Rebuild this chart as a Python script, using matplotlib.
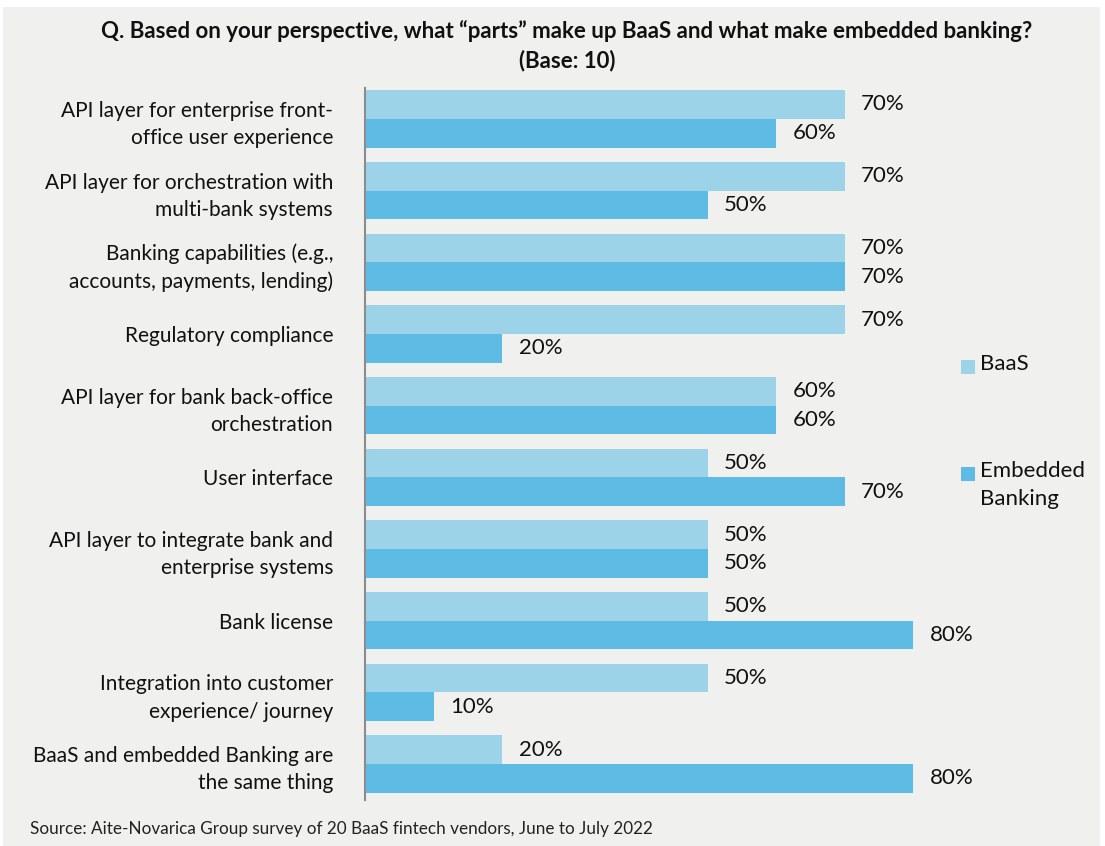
import matplotlib
matplotlib.use("Agg")
import matplotlib.pyplot as plt
from matplotlib.patches import Rectangle

categories = [
    "API layer for enterprise front-\noffice user experience",
    "API layer for orchestration with\nmulti-bank systems",
    "Banking capabilities (e.g.,\naccounts, payments, lending)",
    "Regulatory compliance",
    "API layer for bank back-office\norchestration",
    "User interface",
    "API layer to integrate bank and\nenterprise systems",
    "Bank license",
    "Integration into customer\nexperience/ journey",
    "BaaS and embedded Banking are\nthe same thing",
]
baas = [70, 70, 70, 70, 60, 50, 50, 50, 50, 20]
embedded = [60, 50, 70, 20, 60, 70, 50, 80, 10, 80]
series_names = ["BaaS", "Embedded\nBanking"]
title = "Q. Based on your perspective, what \u201cparts\u201d make up BaaS and what make embedded banking?\n(Base: 10)"
source = "Source: Aite-Novarica Group survey of 20 BaaS fintech vendors, June to July 2022"

C_BAAS = "#9DD3E8"
C_EMB = "#5EBCE4"
BG = "#F0F0EE"
FONT = "Lato"
INK = "#111111"

W, H = 1105, 846
fig = plt.figure(figsize=(W / 100, H / 100), dpi=100)
fig.patch.set_facecolor("white")
fig.add_artist(Rectangle((3 / W, 0), (W - 8) / W, (H - 7) / H,
                         transform=fig.transFigure, facecolor=BG,
                         edgecolor="none", zorder=-10))

ax_left, ax_right = 365 / W, 1050 / W
ax_top, ax_bot = 1 - 88 / H, 1 - 800 / H
ax = fig.add_axes([ax_left, ax_bot, ax_right - ax_left, ax_top - ax_bot])
ax.set_facecolor("none")

n = len(categories)
ys = list(range(n))
bh = 0.4
ax.barh([y - bh / 2 for y in ys], baas, height=bh, color=C_BAAS, label=series_names[0])
ax.barh([y + bh / 2 for y in ys], embedded, height=bh, color=C_EMB, label=series_names[1])

for y, b, e in zip(ys, baas, embedded):
    ax.annotate(f"{b}%", (b, y - bh / 2), xytext=(12, 0), textcoords="offset points",
                va="center", ha="left", fontsize=16, family=FONT, color=INK)
    ax.annotate(f"{e}%", (e, y + bh / 2), xytext=(12, 0), textcoords="offset points",
                va="center", ha="left", fontsize=16, family=FONT, color=INK)

ax.set_xlim(0, 100)
ax.set_ylim(9.5, -0.43)
ax.set_yticks(ys)
ax.set_yticklabels(categories, fontsize=15, family=FONT, color=INK,
                   linespacing=1.45)
ax.tick_params(axis="y", length=0, pad=23)
ax.set_xticks([])
for s in ["top", "right", "bottom"]:
    ax.spines[s].set_visible(False)
ax.spines["left"].set_color("#8c8c8c")
ax.spines["left"].set_linewidth(1.5)

# legend drawn as stacked entries to the right
for name, col, ypix in [(series_names[0], C_BAAS, 367),
                        (series_names[1], C_EMB, 474)]:
    fig.add_artist(Rectangle((961 / W, 1 - (ypix + 7) / H), 14 / W, 14 / H,
                             transform=fig.transFigure, facecolor=col, edgecolor="none"))
    fig.text(980 / W, 1 - (ypix - 13) / H, name, fontsize=16, family=FONT,
             color=INK, va="top", ha="left", linespacing=1.5)

fig.text(567 / W, 1 - 46 / H, title, fontsize=16, fontweight="bold", family=FONT,
         ha="center", va="center", color=INK, linespacing=1.45)
fig.text(30 / W, 1 - 829 / H, source, fontsize=12.3, family=FONT, ha="left",
         va="center", color="#222222")

fig.savefig("out.png", dpi=100, facecolor=fig.get_facecolor())
